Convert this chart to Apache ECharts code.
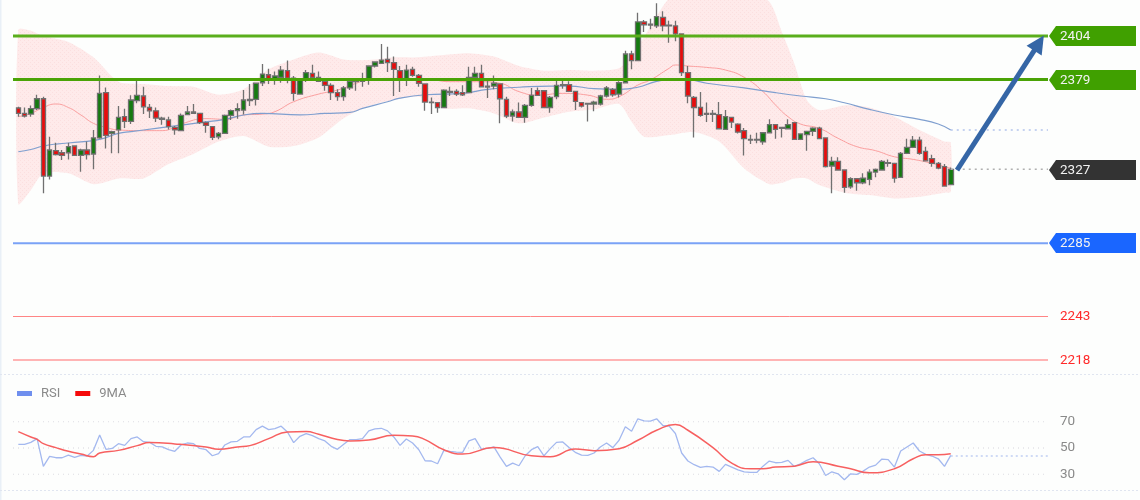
<!DOCTYPE html>
<html>
<head>
<meta charset="utf-8">
<style>html,body{margin:0;padding:0;background:#fdfefd}#chart{width:1140px;height:500px}</style>
<script src="https://cdn.jsdelivr.net/npm/echarts@6/dist/echarts.min.js"></script>
</head>
<body>
<div id="chart"></div>
<script>
// candles
var opens = [2362.7,2359.6,2359.2,2362.3,2368.0,2323.6,2338.2,2337.0,2337.0,2340.9,2335.5,2338.6,2336.3,2345.5,2371.5,2348.1,2350.1,2357.7,2355.0,2366.9,
2369.6,2363.0,2361.1,2356.9,2355.8,2351.6,2349.7,2358.9,2360.4,2359.6,2354.3,2352.0,2346.2,2348.1,2358.5,2361.2,2361.5,2367.7,2367.7,2377.2,
2381.8,2379.1,2380.3,2384.1,2379.9,2370.7,2378.8,2382.6,2380.3,2378.0,2375.7,2371.5,2369.2,2374.2,2377.8,2378.0,2378.8,2386.8,2388.3,2390.6,
2388.7,2384.1,2379.5,2384.9,2381.4,2376.5,2366.1,2365.8,2363.0,2371.7,2372.3,2371.5,2371.5,2380.3,2382.6,2375.3,2375.3,2376.5,2367.7,2358.1,
2360.4,2357.3,2364.2,2372.6,2372.6,2363.0,2369.2,2375.7,2376.1,2372.3,2365.8,2365.4,2365.0,2365.0,2369.6,2373.4,2370.7,2377.2,2393.7,2389.9,
2412.1,2410.3,2409.8,2414.7,2410.2,2409.8,2405.2,2383.0,2368.8,2363.0,2359.6,2359.6,2358.9,2350.4,2357.3,2353.5,2349.7,2344.7,2344.7,2343.2,
2348.5,2353.1,2351.0,2350.8,2354.3,2344.7,2347.4,2349.3,2351.2,2345.5,2329.4,2332.1,2327.1,2317.5,2322.1,2319.8,2321.7,2325.9,2327.1,2331.3,
2330.9,2322.9,2336.7,2340.1,2344.3,2337.8,2333.6,2330.9,2329.0,2318.7];
var closes = [2359.6,2358.1,2362.3,2368.0,2323.6,2338.6,2335.9,2335.5,2340.5,2335.5,2338.6,2335.9,2345.5,2371.1,2347.0,2349.1,2357.3,2355.0,2367.3,2370.0,
2363.4,2361.1,2356.9,2356.2,2352.0,2350.1,2358.5,2360.4,2359.6,2354.3,2352.7,2345.8,2348.1,2358.5,2361.2,2362.3,2367.3,2366.9,2376.9,2382.2,
2379.5,2381.1,2384.5,2379.9,2371.1,2378.8,2383.0,2380.3,2378.0,2375.7,2371.5,2369.2,2374.2,2378.0,2378.6,2379.1,2386.8,2389.1,2390.2,2388.7,
2384.9,2379.5,2384.5,2381.4,2376.9,2366.1,2365.8,2363.0,2373.0,2372.3,2370.7,2370.3,2380.3,2382.6,2374.9,2374.7,2376.9,2368.0,2358.1,2360.4,
2357.3,2364.2,2370.0,2370.0,2363.0,2368.8,2375.7,2376.1,2372.3,2366.5,2363.8,2365.0,2366.1,2369.6,2374.2,2370.3,2377.2,2393.7,2389.9,2412.1,
2410.5,2410.9,2415.1,2409.8,2409.8,2405.2,2383.0,2369.6,2363.0,2358.5,2359.0,2359.0,2350.8,2357.7,2354.6,2348.9,2345.1,2344.3,2344.3,2348.5,
2353.1,2350.4,2351.6,2353.1,2344.7,2347.8,2349.3,2351.2,2345.1,2329.0,2332.1,2327.1,2317.1,2322.1,2319.8,2322.5,2325.9,2327.5,2332.1,2330.9,
2322.5,2336.7,2340.1,2344.3,2336.7,2332.4,2330.9,2328.2,2317.9,2327.5];
var lows = [2357.7,2357.3,2357.7,2361.5,2313.7,2321.7,2335.5,2332.8,2333.2,2335.1,2326.1,2333.2,2327.5,2345.1,2339.5,2336.7,2336.7,2351.2,2353.5,2365.4,
2359.2,2356.9,2354.6,2353.1,2350.4,2347.4,2349.3,2358.5,2359.2,2353.5,2348.5,2344.3,2344.7,2347.8,2355.8,2356.6,2358.9,2363.8,2364.2,2375.3,
2376.5,2376.1,2377.2,2376.9,2366.9,2370.3,2377.6,2378.8,2377.6,2372.6,2367.3,2366.9,2366.9,2373.0,2372.6,2374.9,2376.1,2386.0,2388.3,2383.4,
2369.6,2371.9,2375.3,2380.7,2374.9,2361.1,2359.2,2360.0,2362.7,2369.6,2369.6,2369.6,2371.1,2379.9,2374.6,2368.4,2373.4,2353.9,2356.9,2355.0,
2356.9,2354.3,2363.4,2369.6,2362.7,2360.0,2367.7,2373.8,2371.9,2361.5,2363.0,2355.0,2360.8,2364.2,2368.8,2369.2,2368.8,2376.9,2384.9,2389.5,
2406.3,2407.9,2408.6,2406.7,2400.2,2401.0,2381.1,2365.4,2345.8,2357.7,2354.6,2354.6,2350.4,2350.1,2351.2,2348.1,2335.5,2342.0,2342.4,2341.6,
2348.1,2345.1,2345.8,2350.4,2344.3,2344.3,2338.2,2346.6,2344.7,2328.6,2313.7,2326.7,2314.0,2316.4,2315.2,2319.0,2318.3,2322.9,2326.7,2329.0,
2319.8,2322.5,2336.3,2339.7,2335.9,2332.1,2329.0,2327.5,2317.5,2318.3];
var highs = [2363.4,2363.0,2364.2,2370.3,2369.2,2346.2,2342.8,2338.6,2342.8,2341.3,2339.3,2343.4,2350.1,2381.4,2374.5,2349.7,2363.8,2362.3,2370.0,2378.8,
2374.9,2365.0,2363.0,2357.7,2357.7,2352.4,2359.6,2363.8,2365.0,2360.0,2355.0,2352.4,2348.9,2358.9,2361.9,2365.4,2373.0,2376.5,2377.2,2387.9,
2385.3,2383.7,2386.8,2389.9,2381.1,2379.1,2384.5,2387.6,2383.7,2379.5,2376.9,2373.4,2375.3,2379.1,2379.1,2383.0,2387.2,2389.5,2399.4,2397.9,
2392.2,2386.8,2387.6,2386.4,2382.2,2376.9,2368.8,2366.1,2373.4,2374.9,2373.4,2375.7,2386.4,2386.4,2387.6,2378.8,2381.4,2376.9,2369.2,2361.9,
2365.8,2365.0,2374.2,2374.5,2373.0,2369.6,2379.9,2378.8,2378.0,2372.6,2366.1,2365.4,2366.9,2370.3,2375.3,2374.2,2378.0,2395.6,2395.6,2417.4,
2413.2,2414.0,2422.8,2418.2,2412.8,2412.8,2405.6,2386.8,2369.6,2371.9,2365.8,2361.5,2366.1,2361.5,2357.7,2353.9,2351.2,2347.4,2348.5,2348.9,
2356.2,2353.5,2352.0,2356.2,2354.6,2348.1,2349.7,2351.6,2352.0,2345.8,2334.7,2334.4,2327.5,2322.9,2322.5,2325.2,2327.5,2327.9,2332.8,2333.2,
2331.3,2337.4,2345.1,2346.6,2346.2,2340.5,2335.9,2331.7,2330.5,2328.6];

// bollinger band, read at these candles
var bandIndex = [0,2,4,8,12,16,20,24,28,32,36,40,44,48,52,56,60,64,68,72,76,80,84,88,92,96,98,100,104,108,112,116,120,122,124,126,128,132,136,140,144,148,149];
var bandUpper = [2407.5,2407.1,2404.0,2400.6,2391.8,2377.8,2376.5,2375.3,2374.9,2370.3,2373.4,2384.9,2390.6,2394.6,2390.6,2390.2,2391.8,2391.8,2393.1,2394.1,2392.2,2386.8,2384.1,2384.5,2384.1,2385.5,2393.1,2403.6,2425.7,2434.3,2434.3,2430.4,2423.7,2406.5,2388.3,2367.3,2361.5,2364.2,2363.0,2357.7,2350.1,2343.5,2342.8];
var bandLower = [2307.6,2315.6,2325.2,2325.2,2319.0,2322.3,2322.3,2330.5,2336.3,2343.4,2346.6,2340.5,2340.9,2345.8,2356.8,2363.8,2367.3,2369.2,2362.5,2362.5,2359.6,2353.9,2357.3,2360.6,2361.9,2365.0,2354.8,2346.2,2347.2,2348.9,2343.4,2328.0,2319.0,2319.8,2322.3,2322.3,2318.5,2314.1,2312.7,2310.8,2311.8,2314.1,2314.6];

// moving averages on the price panel
var redIndex = [0,2,4,6,8,10,12,14,16,20,23,26,30,33,36,39,41,44,48,51,54,56,60,65,69,74,77,80,83,87,91,94,96,99,101,104,105,107,110,113,116,119,121,123,125,128,131,134,137,140,143,146,149];
var redValues = [2357.7,2359.6,2363.0,2365.0,2363.0,2358.7,2353.9,2351.6,2350.1,2349.7,2349.7,2353.5,2356.6,2356.2,2358.7,2359.2,2360.6,2366.3,2370.7,2373.0,2376.9,2379.1,2379.7,2379.5,2377.8,2377.8,2376.9,2372.1,2370.1,2371.1,2370.1,2367.7,2369.2,2375.9,2378.8,2385.5,2387.4,2386.8,2386.0,2384.5,2380.3,2372.1,2364.4,2357.7,2353.5,2351.0,2345.3,2340.5,2338.2,2334.7,2333.2,2330.9,2328.0];
var blueIndex = [0,2,4,6,10,13,16,18,22,25,29,33,36,39,45,49,53,55,59,61,65,71,75,80,85,88,92,96,99,102,104,107,110,116,121,125,129,132,136,140,144,147,149];
var blueValues = [2337.6,2338.9,2340.9,2342.0,2343.2,2344.7,2348.1,2349.1,2351.0,2352.4,2354.3,2356.2,2358.7,2359.6,2358.7,2359.6,2360.2,2362.5,2366.3,2368.4,2370.3,2371.1,2373.4,2374.6,2375.3,2375.3,2373.8,2373.4,2374.6,2378.0,2378.8,2378.8,2376.9,2374.2,2371.5,2369.6,2368.0,2365.7,2361.9,2358.7,2356.2,2353.5,2350.1];

// levels
var levelValues = [2404, 2379, 2285, 2243, 2218];
var levelColors = ['#5aae1c', '#4aa306', '#7aa2f6', '#ff8585', '#ffb4b4'];
var levelWidths = [3, 3, 2, 1, 2];
var tagValues = [2404, 2379, 2327, 2285];
var tagColors = ['#40a000', '#40a000', '#333333', '#1a66ff'];
var redLabelValues = [2243, 2218];
var lastClose = 2327.5;
var lastBlue = 2350.1;
var arrowFrom = [150, 2327];
var arrowTo = [163.1, 2400];

// rsi panel
var rsiValues = [52.8,52.8,54.3,57.1,36.0,43.6,42.6,42.6,44.6,42.9,44.4,43.9,48.2,59.9,49.0,49.7,53.3,52.0,57.1,58.4,
54.8,54.3,51.3,50.8,48.7,47.5,52.3,53.8,53.3,49.7,48.7,44.1,45.7,52.3,54.6,55.1,58.4,58.4,64.0,66.6,
64.0,64.8,66.6,62.2,54.1,58.9,61.0,59.4,57.1,55.4,51.3,49.0,52.8,56.4,56.4,57.1,63.0,64.5,65.0,63.0,
58.4,52.0,56.9,53.8,48.7,40.3,40.1,38.0,48.2,47.5,46.9,46.7,55.4,57.1,49.2,49.7,50.8,43.1,36.0,38.5,
36.5,44.1,48.7,51.0,44.1,49.5,54.3,54.6,50.3,46.7,44.6,44.4,46.2,50.8,53.8,50.3,55.9,66.1,62.7,72.2,
70.6,70.4,72.2,67.1,66.6,61.0,46.2,40.1,37.3,35.2,36.0,35.5,32.2,37.5,35.5,33.4,31.9,31.4,31.4,36.2,
40.1,38.8,39.0,40.6,36.0,38.0,40.6,42.6,38.0,29.1,31.9,30.4,25.8,30.4,29.9,32.4,35.5,37.0,41.6,41.1,
35.5,47.7,50.8,53.8,47.7,45.2,43.9,41.8,36.0,44.4];
var rsiMaIndex = [0,2,3,4,6,8,10,12,13,16,19,21,25,30,32,35,37,40,43,46,48,51,53,56,60,63,65,68,71,76,82,85,89,92,96,99,102,105,107,111,114,117,119,121,124,127,131,133,136,140,143,145,147,149];
var rsiMaValues = [62.5,58.4,56.6,53.3,50.3,47.5,45.4,43.4,46.2,48.2,51.8,54.1,53.1,50.8,49.0,50.8,51.8,57.1,62.2,62.5,60.4,56.4,55.4,56.1,59.7,59.2,56.4,48.7,45.4,50.3,44.1,43.4,49.2,48.0,49.5,55.9,63.5,67.8,63.5,50.3,38.5,34.2,34.2,35.5,36.2,39.6,36.2,34.2,31.1,34.2,41.8,44.9,44.9,45.7];
var rsiTicks = [30, 50, 70];
var rsiLast = 44;

// shared x range of the level lines, in candle units
var xStart = -0.85, xEnd = 164.54;
var slotCount = 165;

function pairs(idx, vals) {
    return idx.map(function (v, i) { return [v, vals[i]]; });
}
function flat(v) {
    return [[xStart, v], [xEnd, v]];
}

var candleData = opens.map(function (o, i) { return [o, closes[i], lows[i], highs[i]]; });
var slots = [];
for (var s = 0; s < slotCount; s++) slots.push(String(s));

// small dotted texture for the band
var tex = document.createElement('canvas');
tex.width = 4; tex.height = 4;
var tc = tex.getContext('2d');
tc.fillStyle = '#feeaea'; tc.fillRect(0, 0, 4, 4);
tc.fillStyle = '#fbdfdf'; tc.fillRect(0, 0, 1, 1); tc.fillRect(2, 2, 1, 1);

var series = [];

series.push({
    type: 'custom', xAxisIndex: 1, yAxisIndex: 1, z: 1, silent: true,
    data: [[0, 0]],
    renderItem: function (params, api) {
        var up = bandIndex.map(function (b, i) { return api.coord([b, bandUpper[i]]); });
        var low = bandIndex.map(function (b, i) { return api.coord([b, bandLower[i]]); }).reverse();
        return { type: 'polygon', shape: { points: up.concat(low), smooth: 0.25 },
            style: { fill: { image: tex, repeat: 'repeat' } } };
    }
});
series.push({
    type: 'line', xAxisIndex: 1, yAxisIndex: 1, z: 2, symbol: 'none', smooth: true, silent: true,
    lineStyle: { color: '#fb9f9f', width: 1 }, data: pairs(redIndex, redValues)
});
series.push({
    type: 'line', xAxisIndex: 1, yAxisIndex: 1, z: 2, symbol: 'none', smooth: true, silent: true,
    lineStyle: { color: '#7f9fcf', width: 1.2 }, data: pairs(blueIndex, blueValues)
});
series.push({
    type: 'candlestick', xAxisIndex: 0, yAxisIndex: 0, z: 3, silent: true, barWidth: 5,
    itemStyle: { color: '#157a10', color0: '#e80c0c', borderColor: '#707070', borderColor0: '#707070', borderWidth: 1.3 },
    data: candleData
});
levelValues.forEach(function (v, i) {
    series.push({
        type: 'line', xAxisIndex: 1, yAxisIndex: 1, z: 4, symbol: 'none', silent: true,
        lineStyle: { color: levelColors[i], width: levelWidths[i] }, data: flat(v)
    });
});
series.push({
    type: 'line', xAxisIndex: 1, yAxisIndex: 1, z: 4, symbol: 'none', silent: true,
    lineStyle: { color: '#b4c4ec', width: 1.5, type: [2, 4] }, data: [[149, lastBlue], [xEnd, lastBlue]]
});
series.push({
    type: 'line', xAxisIndex: 1, yAxisIndex: 1, z: 4, symbol: 'none', silent: true,
    lineStyle: { color: '#b0b0b0', width: 1.5, type: [2, 4] }, data: [[149, lastClose], [xEnd, lastClose]]
});
// arrow
series.push({
    type: 'line', xAxisIndex: 1, yAxisIndex: 1, z: 6, symbol: 'none', silent: true,
    lineStyle: { width: 0 }, data: [],
    markLine: {
        silent: true, animation: false, symbol: ['none', 'triangle'], symbolSize: 18,
        label: { show: false },
        lineStyle: { color: '#3566a6', width: 5, type: 'solid' },
        data: [[{ coord: arrowFrom }, { coord: arrowTo }]]
    }
});
// right hand tags
series.push({
    type: 'custom', xAxisIndex: 1, yAxisIndex: 1, z: 7, silent: true,
    data: tagValues.map(function (v) { return [xEnd, v]; }),
    renderItem: function (params, api) {
        var p = api.coord([api.value(0), api.value(1)]);
        var x = p[0] + 1, y = Math.round(p[1]);
        return {
            type: 'group',
            children: [{
                type: 'polygon',
                shape: { points: [[x, y], [x + 7, y - 10], [x + 87, y - 10], [x + 87, y + 10], [x + 7, y + 10]] },
                style: { fill: tagColors[params.dataIndex] }
            }, {
                type: 'text',
                style: { x: x + 11, y: y + 1, text: String(api.value(1)), fill: '#f2f2f2', font: '13.5px Roboto', textVerticalAlign: 'middle' }
            }]
        };
    }
});
series.push({
    type: 'custom', xAxisIndex: 1, yAxisIndex: 1, z: 7, silent: true,
    data: redLabelValues.map(function (v) { return [xEnd, v]; }),
    renderItem: function (params, api) {
        var p = api.coord([api.value(0), api.value(1)]);
        return {
            type: 'text',
            style: { x: p[0] + 12, y: p[1] + 0.5, text: String(api.value(1)), fill: '#ff2a2a', font: '13.5px Roboto', textVerticalAlign: 'middle' }
        };
    }
});
// rsi
rsiTicks.forEach(function (v) {
    series.push({
        type: 'line', xAxisIndex: 2, yAxisIndex: 2, z: 1, symbol: 'none', silent: true,
        lineStyle: { color: '#d6d4dc', width: 1, type: [1, 4] }, data: flat(v)
    });
});
series.push({
    type: 'line', xAxisIndex: 2, yAxisIndex: 2, z: 2, symbol: 'none', silent: true,
    lineStyle: { color: '#c0cef2', width: 1.5, type: [2, 3] }, data: [[149, rsiLast], [xEnd, rsiLast]]
});
series.push({
    name: 'RSI', type: 'line', xAxisIndex: 2, yAxisIndex: 2, z: 3, symbol: 'none', silent: true, clip: false,
    itemStyle: { color: '#6f8fee' }, lineStyle: { color: '#a3b8ef', width: 1.3 },
    data: rsiValues.map(function (v, i) { return [i, v]; })
});
series.push({
    name: '9MA', type: 'line', xAxisIndex: 2, yAxisIndex: 2, z: 4, symbol: 'none', smooth: true, silent: true, clip: false,
    itemStyle: { color: '#f50a0a' }, lineStyle: { color: '#f76060', width: 1.5 },
    data: pairs(rsiMaIndex, rsiMaValues)
});

var myChart = echarts.init(document.getElementById('chart'));
myChart.setOption({
    animation: false,
    backgroundColor: '#fdfefd',
    textStyle: { fontFamily: 'Roboto' },
    legend: {
        left: 12, top: 382, icon: 'rect', itemWidth: 15, itemHeight: 5, itemGap: 15,
        selectedMode: false, data: ['RSI', '9MA'],
        textStyle: { color: '#8a8a8a', fontSize: 13, padding: [0, 0, 0, 4], fontFamily: 'Roboto' }
    },
    graphic: [
        { type: 'rect', shape: { x: 0, y: 0, width: 1.5, height: 500 }, style: { fill: '#e9f0f7' }, silent: true },
        { type: 'line', shape: { x1: 0, y1: 374.5, x2: 1140, y2: 374.5 }, style: { stroke: '#e0e5f0', lineDash: [2, 2] }, silent: true },
        { type: 'line', shape: { x1: 0, y1: 490.5, x2: 1140, y2: 490.5 }, style: { stroke: '#e0e5f0', lineDash: [2, 2] }, silent: true }
    ],
    grid: [
        { left: 15.17, top: 0, width: 1032.6, height: 374 },
        { left: 13, top: 0, width: 1035, height: 374 },
        { left: 13, top: 421.7, width: 1035, height: 52.6 }
    ],
    xAxis: [
        { type: 'category', gridIndex: 0, show: false, data: slots },
        { type: 'value', gridIndex: 1, show: false, min: xStart, max: xEnd },
        { type: 'value', gridIndex: 2, show: false, min: xStart, max: xEnd }
    ],
    yAxis: [
        { type: 'value', gridIndex: 0, show: false, min: 2210, max: 2424.7, scale: true },
        { type: 'value', gridIndex: 1, show: false, min: 2210, max: 2424.7, scale: true },
        {
            type: 'value', gridIndex: 2, position: 'right', min: 30, max: 70,
            axisLine: { show: false }, axisTick: { show: false }, splitLine: { show: false },
            axisLabel: { customValues: rsiTicks, color: '#8a8a8a', fontSize: 13.5, margin: 12, padding: [2, 0, 0, 0] }
        }
    ],
    series: series
});
</script>
</body>
</html>
